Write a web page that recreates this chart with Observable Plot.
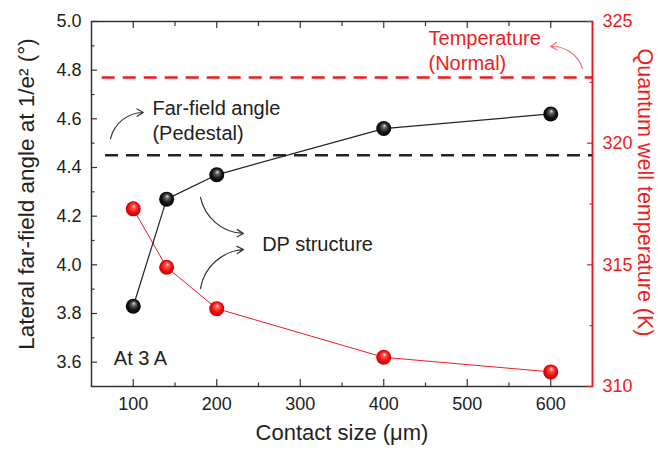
<!DOCTYPE html>
<html><head><meta charset="utf-8">
<script src="https://cdn.jsdelivr.net/npm/d3@7"></script>
<script src="https://cdn.jsdelivr.net/npm/@observablehq/plot@0.6"></script>
<style>body{margin:0;background:#fff}</style>
</head><body><div id="chart"></div>
<script>
// ---- data ----
const contactSize = [100, 140, 200, 400, 600];
const farFieldAngle = [3.83, 4.27, 4.37, 4.56, 4.62];
const qwTemperature = [317.3, 314.9, 313.2, 311.2, 310.6];

const xTicks = [100, 200, 300, 400, 500, 600];
const xMinorTicks = [150, 250, 350, 450, 550];
const yTicks = [3.6, 3.8, 4.0, 4.2, 4.4, 4.6, 4.8, 5.0];
const yMinorTicks = [3.7, 3.9, 4.1, 4.3, 4.5, 4.7, 4.9];
const tTicks = [310, 315, 320, 325];
const tMinorTicks = [312.5, 317.5, 322.5];

const pedestalAngle = 4.45;        // black dashed reference (left axis)
const normalTemperature = 322.7;   // red dashed reference (right axis)
const refLineStart = [66.8, 62.8]; // x where each dashed line begins

// annotations (x in µm, y in left-axis units)
const noteText = ["Far-field angle\n(Pedestal)", "DP structure", "At 3 A"];
const noteX = [123, 254.4, 76.7];
const noteY = [4.597, 4.089, 3.620];
const tempNoteText = ["Temperature\n(Normal)"];
const tempNoteX = [453.6];
const tempNoteY = [4.886];

const arrowX1 = [72.8, 180.5, 180.5];
const arrowY1 = [4.519, 4.277, 3.903];
const arrowX2 = [112, 232, 232];
const arrowY2 = [4.626, 4.129, 4.063];
const arrowBend = [38, -38, 38];
const tempArrowX1 = [638], tempArrowY1 = [4.807], tempArrowX2 = [599.7], tempArrowY2 = [4.897];

// ---- helpers ----
const RED = "#ee1c22";
const INK = "#222";
const tScale = d3.scaleLinear([310, 325], [3.5, 5.0]); // right axis -> left-axis units

const black = contactSize.map((x, i) => ({x, y: farFieldAngle[i]}));
const red = contactSize.map((x, i) => ({x, y: tScale(qwTemperature[i])}));
const notes = noteText.map((t, i) => ({t, x: noteX[i], y: noteY[i]}));
const tempNotes = tempNoteText.map((t, i) => ({t, x: tempNoteX[i], y: tempNoteY[i]}));
const arrows = arrowX1.map((x1, i) => ({x1, y1: arrowY1[i], x2: arrowX2[i], y2: arrowY2[i], bend: arrowBend[i]}));
const tempArrows = tempArrowX1.map((x1, i) => ({x1, y1: tempArrowY1[i], x2: tempArrowX2[i], y2: tempArrowY2[i]}));

const plot = Plot.plot({
  width: 658,
  height: 453,
  marginTop: 21,
  marginBottom: 67,
  marginLeft: 91,
  marginRight: 66,
  style: {fontFamily: "'Liberation Sans', Arial, sans-serif", fontSize: "18px", color: INK, background: "white", overflow: "visible"},
  x: {domain: [50, 650]},
  y: {domain: [3.5, 5.0]},
  marks: [
    // reference dashed lines
    Plot.ruleY([pedestalAngle], {x1: refLineStart[0], x2: 650, stroke: INK, strokeWidth: 2.5, strokeDasharray: "13,8"}),
    Plot.ruleY([tScale(normalTemperature)], {x1: refLineStart[1], x2: 650, stroke: RED, strokeWidth: 2.5, strokeDasharray: "13,8"}),

    // frame
    Plot.frame({stroke: "#333", strokeWidth: 1.5}),
    Plot.ruleX([650], {stroke: RED, strokeWidth: 1.5}),

    // bottom axis
    Plot.axisX({anchor: "bottom", ticks: xTicks, tickSize: -7, tickPadding: 17.5, label: null, fontSize: 18, stroke: "#333", fill: INK, strokeWidth: 1.2}),
    Plot.axisX({anchor: "bottom", ticks: xMinorTicks, tickSize: -3.5, tickFormat: () => "", label: null, stroke: "#333", strokeWidth: 1.2}),
    // top axis
    Plot.axisX({anchor: "top", ticks: xTicks, tickSize: -6, tickFormat: () => "", label: null, stroke: "#333", strokeWidth: 1.2}),
    Plot.axisX({anchor: "top", ticks: xMinorTicks, tickSize: -4, tickFormat: () => "", label: null, stroke: "#333", strokeWidth: 1.2}),
    // left axis
    Plot.axisY({anchor: "left", ticks: yTicks, tickSize: -6, tickPadding: 16, tickFormat: d3.format(".1f"), label: null, fontSize: 18, stroke: "#333", fill: INK, strokeWidth: 1.2}),
    Plot.axisY({anchor: "left", ticks: yMinorTicks, tickSize: -3.5, tickFormat: () => "", label: null, stroke: "#333", strokeWidth: 1.2}),
    // right axis (temperature)
    Plot.axisY({anchor: "right", ticks: tTicks.map(t => tScale(t)), tickSize: -6, tickPadding: 16, tickFormat: d => String(Math.round(tScale.invert(d))), label: null, fontSize: 18, stroke: RED, fill: RED, strokeWidth: 1.2}),
    Plot.axisY({anchor: "right", ticks: tMinorTicks.map(t => tScale(t)), tickSize: -3.5, tickFormat: () => "", label: null, stroke: RED, strokeWidth: 1.2}),

    // axis titles
    Plot.text(["Contact size (μm)"], {text: d => d, frameAnchor: "bottom", textAnchor: "middle", dy: 53, fontSize: 22, fill: INK}),
    Plot.text(["Lateral far-field angle at 1/e² (°)"], {text: d => d, frameAnchor: "left", textAnchor: "middle", rotate: -90, dx: -65, dy: -10, fontSize: 22.5, fill: INK}),
    Plot.text(["Quantum well temperature (K)"], {text: d => d, frameAnchor: "right", textAnchor: "middle", rotate: 90, dx: 52, dy: -11.5, fontSize: 21.5, fill: RED}),

    // annotations
    ...arrows.map(a => Plot.arrow([a], {x1: "x1", y1: "y1", x2: "x2", y2: "y2", bend: a.bend, stroke: "#333", strokeWidth: 1.2, headLength: 9})),
    Plot.arrow(tempArrows, {x1: "x1", y1: "y1", x2: "x2", y2: "y2", bend: -38, stroke: "#f07070", strokeWidth: 1.2, headLength: 9}),
    Plot.text(notes, {x: "x", y: "y", text: "t", textAnchor: "start", lineAnchor: "middle", lineHeight: 1.25, fontSize: 20, fill: INK}),
    Plot.text(tempNotes, {x: "x", y: "y", text: "t", textAnchor: "start", lineAnchor: "middle", lineHeight: 1.25, fontSize: 20, fill: RED}),

    // series
    Plot.line(red, {x: "x", y: "y", stroke: RED, strokeWidth: 1}),
    Plot.line(black, {x: "x", y: "y", stroke: INK, strokeWidth: 1.2}),
    Plot.dot(red, {x: "x", y: "y", r: 7.5, fill: "url(#sphereRed)", stroke: "none"}),
    Plot.dot(black, {x: "x", y: "y", r: 7.5, fill: "url(#sphereBlack)", stroke: "none"})
  ]
});

// sphere gradients
const ns = "http://www.w3.org/2000/svg";
const defs = document.createElementNS(ns, "defs");
function grad(id, stops) {
  const g = document.createElementNS(ns, "radialGradient");
  g.setAttribute("id", id);
  g.setAttribute("cx", "0.5"); g.setAttribute("cy", "0.5"); g.setAttribute("r", "0.55");
  g.setAttribute("fx", "0.55"); g.setAttribute("fy", "0.3");
  for (const [o, c] of stops) {
    const s = document.createElementNS(ns, "stop");
    s.setAttribute("offset", o); s.setAttribute("stop-color", c);
    g.appendChild(s);
  }
  defs.appendChild(g);
}
grad("sphereBlack", [["0", "#e8e8e8"], ["0.22", "#6a6a6a"], ["0.6", "#151515"], ["1", "#000"]]);
grad("sphereRed", [["0", "#fff0f0"], ["0.22", "#ff5a5a"], ["0.6", "#ee1111"], ["1", "#b80000"]]);
plot.insertBefore(defs, plot.firstChild);

document.getElementById("chart").appendChild(plot);
</script></body></html>
